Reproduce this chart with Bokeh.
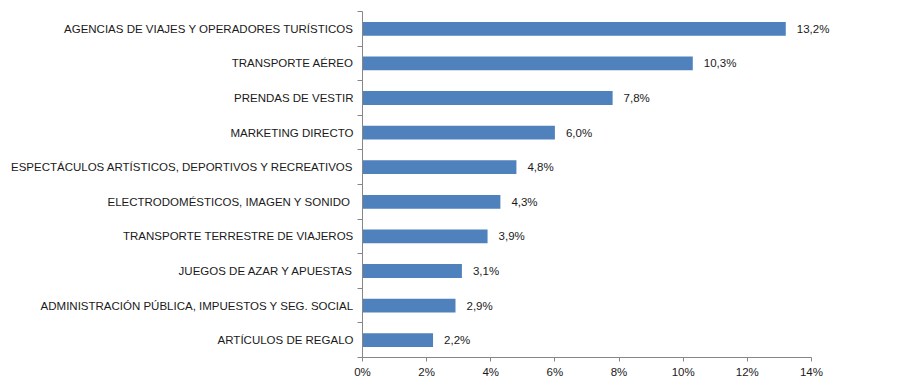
from bokeh.plotting import figure
from bokeh.models import ColumnDataSource, FixedTicker, PrintfTickFormatter, Range1d
from bokeh.core.properties import value
from bokeh.embed import file_html
from bokeh.resources import INLINE

categories = [
    "AGENCIAS DE VIAJES Y OPERADORES TURÍSTICOS",
    "TRANSPORTE AÉREO",
    "PRENDAS DE VESTIR",
    "MARKETING DIRECTO",
    "ESPECTÁCULOS ARTÍSTICOS, DEPORTIVOS Y RECREATIVOS",
    "ELECTRODOMÉSTICOS,  IMAGEN Y SONIDO",
    "TRANSPORTE TERRESTRE DE VIAJEROS",
    "JUEGOS DE AZAR Y APUESTAS",
    "ADMINISTRACIÓN PÚBLICA, IMPUESTOS Y SEG. SOCIAL",
    "ARTÍCULOS DE REGALO",
]
values = [13.2, 10.3, 7.8, 6.0, 4.8, 4.3, 3.9, 3.1, 2.9, 2.2]
x_ticks = [0, 2, 4, 6, 8, 10, 12, 14]

n = len(categories)
ypos = [n - i for i in range(n)]  # top category at top
labels = [f"{v:.1f}".replace(".", ",") + "%" for v in values]

src = ColumnDataSource(dict(y=ypos, v=values, lab=labels, cat=categories))

FONT = "Liberation Sans"
# x range extended past 14 so value labels are not clipped; axis bounded at 0..14
p = figure(
    frame_width=481, frame_height=346,
    min_border_left=362, min_border_right=39, min_border_top=11, min_border_bottom=23,
    x_range=Range1d(0, 15), y_range=Range1d(0.5, n + 0.5),
    output_backend="svg", toolbar_location=None,
)
p.outline_line_color = None
p.xgrid.visible = False
p.ygrid.visible = False
p.background_fill_color = "white"
p.border_fill_color = "white"

p.hbar(y="y", right="v", left=0, height=0.4, source=src,
       fill_color="#4F81BD", line_color=None)
p.text(x="v", y="y", text="lab", source=src, x_offset=11,
       text_baseline="middle", text_align="left",
       text_font=value(FONT), text_font_size="11.5px", text_color="#1a1a1a")

ya = p.yaxis[0]
ya.ticker = FixedTicker(ticks=ypos, minor_ticks=[i + 0.5 for i in range(n + 1)])
ya.major_label_overrides = {y: c for y, c in zip(ypos, categories)}
ya.major_tick_out = 0
ya.major_tick_in = 0
ya.minor_tick_out = 5
ya.minor_tick_in = 0
ya.minor_tick_line_color = "#868686"
ya.axis_line_color = "#868686"
ya.major_label_standoff = 4
ya.major_label_text_font = FONT
ya.major_label_text_font_size = "11.5px"
ya.major_label_text_color = "#1a1a1a"

xa = p.xaxis[0]
xa.bounds = (0, 14)
xa.ticker = FixedTicker(ticks=x_ticks)
xa.formatter = PrintfTickFormatter(format="%d%%")
xa.major_tick_out = 4
xa.major_tick_in = 0
xa.minor_tick_out = 0
xa.minor_tick_in = 0
xa.major_tick_line_color = "#868686"
xa.axis_line_color = "#868686"
xa.major_label_standoff = 4
xa.major_label_text_font = FONT
xa.major_label_text_font_size = "11.5px"
xa.major_label_text_color = "#1a1a1a"

open("out.html", "w").write(file_html(p, INLINE))
